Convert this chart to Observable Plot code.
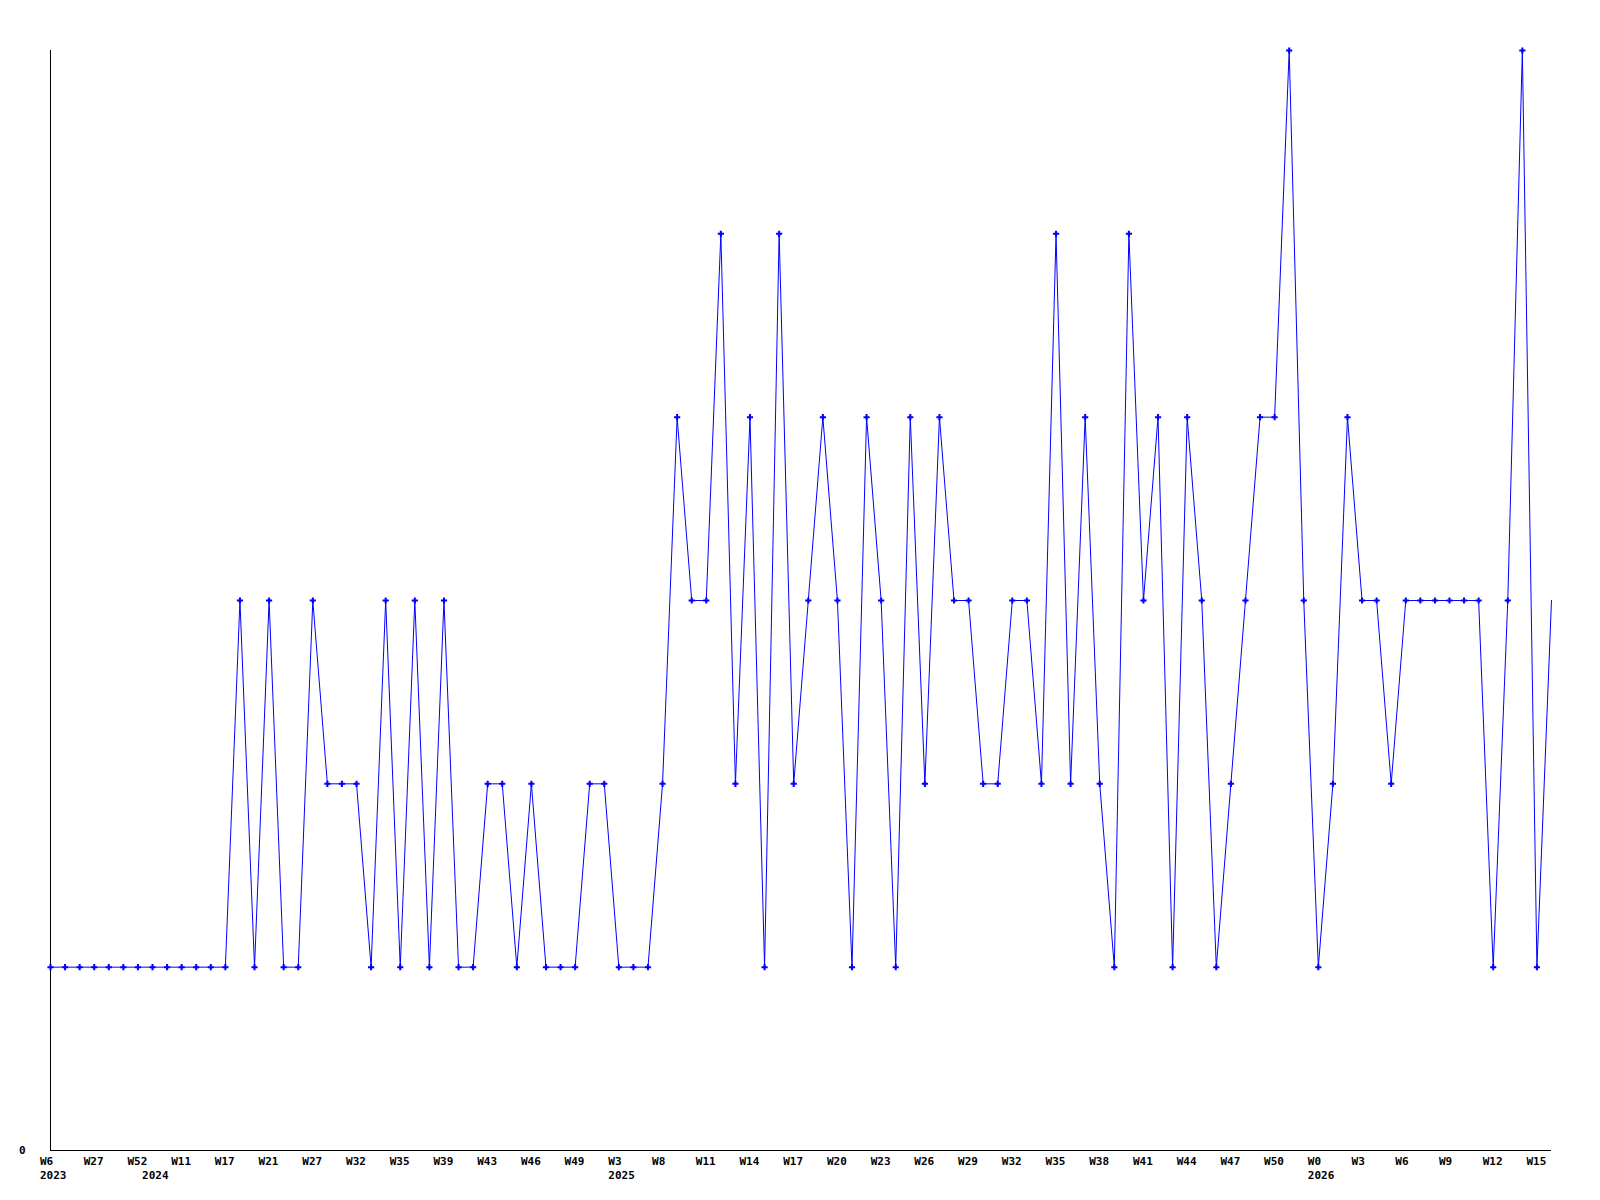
<!DOCTYPE html>
<html>
<head>
<meta charset="utf-8">
<script src="https://cdn.jsdelivr.net/npm/d3@7"></script>
<script src="https://cdn.jsdelivr.net/npm/@observablehq/plot@0.6"></script>
<style>
  html, body { margin: 0; padding: 0; background: #ffffff; }
  #chart svg { display: block; }
</style>
</head>
<body>
<div id="chart"></div>
<script>
// Weekly values, one per week shown (in order)
const values = [
  1,1,1,1,1,1,1,1,1,1,1,1,1,
  3,1,3,1,1,3,2,2,2,1,3,1,3,1,3,1,1,2,2,1,2,1,1,1,2,2,1,1,1,2,
  4,3,3,5,2,4,1,5,2,3,4,3,1,4,3,1,4,2,4,3,3,2,2,3,3,2,5,2,4,2,1,
  5,3,4,1,4,3,1,2,3,4,4,6,3,1,2,4,3,3,2,3,3,3,3,3,3,1,3,6,1,3
];

// Week tick labels (every third week point)
const tickIndex = [0,3,6,9,12,15,18,21,24,27,30,33,36,39,42,45,48,51,54,57,60,63,66,69,72,75,78,81,84,87,90,93,96,99,102];
const tickLabels = ["W6","W27","W52","W11","W17","W21","W27","W32","W35","W39","W43","W46","W49",
  "W3","W8","W11","W14","W17","W20","W23","W26","W29","W32","W35","W38","W41","W44","W47","W50",
  "W0","W3","W6","W9","W12","W15"];

// Year labels
const yearIndex = [0, 7, 39, 87];
const yearLabels = ["2023", "2024", "2025", "2026"];

const data = values.map((v, i) => ({i, v}));
const tickMap = new Map(tickIndex.map((t, k) => [t, tickLabels[k]]));
const yearMap = new Map(yearIndex.map((t, k) => [t, yearLabels[k]]));

const font = "'DejaVu Sans Mono', monospace";

const chart = Plot.plot({
  width: 1600,
  height: 1200,
  marginLeft: 50,
  marginRight: 49,
  marginTop: 50,
  marginBottom: 50,
  style: {background: "#ffffff", fontFamily: font, fontSize: "11px", fontWeight: "bold", color: "#000"},
  x: {type: "linear", domain: [0, values.length - 1], axis: null},
  y: {domain: [0, 6], axis: null},
  marks: [
    Plot.axisX(tickIndex, {
      label: null, tickSize: 0, tickPadding: 7, textAnchor: "start", dx: -10.5,
      tickFormat: d => tickMap.get(d), fill: "#000", fontWeight: "bold"
    }),
    Plot.axisX(yearIndex, {
      label: null, tickSize: 0, tickPadding: 21, textAnchor: "start", dx: -10.5,
      tickFormat: d => yearMap.get(d), fill: "#000", fontWeight: "bold"
    }),
    Plot.axisY([0], {
      label: null, tickSize: 0, tickPadding: 25, textAnchor: "end",
      tickFormat: d => String(d), fill: "#000", fontWeight: "bold"
    }),
    Plot.ruleY([0], {stroke: "#000", strokeWidth: 1}),
    Plot.ruleX([0], {stroke: "#000", strokeWidth: 1}),
    Plot.line(data, {x: "i", y: "v", stroke: "#0000ff", strokeWidth: 1}),
    Plot.dot(data.filter(d => d.i < values.length - 1), {x: "i", y: "v", symbol: "cross", r: 2.6, fill: "#0000ff", stroke: "none"})
  ]
});

document.getElementById("chart").appendChild(chart);
</script>
</body>
</html>
